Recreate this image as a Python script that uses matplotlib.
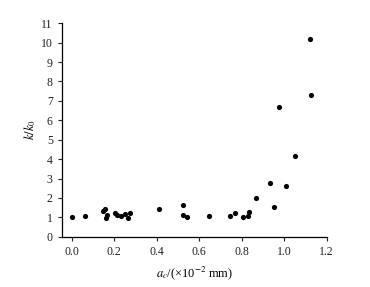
import matplotlib
matplotlib.use('Agg')
import matplotlib.pyplot as plt

# ac (x1e-2 mm) and k/k0
ac = [0.0, 0.061, 0.145, 0.157, 0.165, 0.163, 0.204, 0.212, 0.23, 0.252, 0.267, 0.273,
      0.412, 0.525, 0.522, 0.541, 0.646, 0.746, 0.768, 0.806, 0.828, 0.834,
      0.867, 0.933, 0.953, 0.976, 1.01, 1.052, 1.123, 1.128]
kk0 = [1.0, 1.07, 1.32, 1.43, 1.12, 0.98, 1.2, 1.12, 1.06, 1.17, 0.96, 1.24,
       1.42, 1.63, 1.12, 1.03, 1.06, 1.05, 1.22, 1.01, 1.09, 1.30,
       1.98, 2.78, 1.55, 6.70, 2.6, 4.14, 10.19, 7.32]

xticks = [0.0, 0.2, 0.4, 0.6, 0.8, 1.0, 1.2]
yticks = list(range(0, 12))

plt.rcParams['font.family'] = 'Liberation Serif'
plt.rcParams['mathtext.fontset'] = 'stix'

fig = plt.figure(figsize=(3.7, 2.87), dpi=100)
ax = fig.add_axes([0.167, 0.175, 0.716, 0.744])
ax.scatter(ac, kk0, s=14, color='black', linewidths=0, zorder=3)

ax.set_xlim(-0.047, 1.2)
ax.set_ylim(0, 11)
ax.set_xticks(xticks)
ax.set_xticklabels(['%.1f' % v for v in xticks])
ax.set_yticks(yticks)
ax.spines['top'].set_visible(False)
ax.spines['right'].set_visible(False)
for s in ['left', 'bottom']:
    ax.spines[s].set_linewidth(0.9)
ax.tick_params(direction='out', length=3, width=0.8, labelsize=8.5, colors='#222222')

ax.set_xlabel(r'$a_c$/(×10$^{-2}$ mm)', fontsize=9, labelpad=5)
ax.set_ylabel(r'$k/k_0$', fontsize=9, labelpad=2)

fig.savefig('out.png', dpi=100)
